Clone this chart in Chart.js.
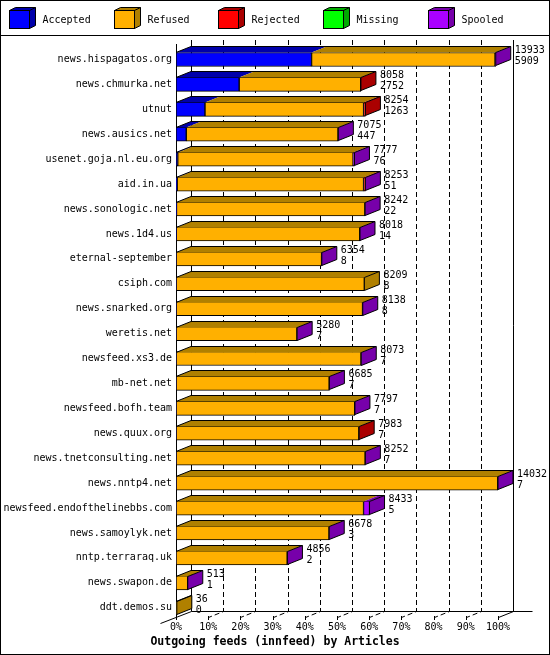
<!DOCTYPE html>
<html>
<head>
<meta charset="utf-8">
<script src="https://cdn.jsdelivr.net/npm/chart.js@4.4.1/dist/chart.umd.min.js"></script>
<style>
  html, body { margin: 0; padding: 0; background: #fff; }
  canvas { display: block; }
</style>
</head>
<body>
<canvas id="FeedChart" width="550" height="655"></canvas>
<script>
// ── Outgoing feeds (innfeed) by Articles ─────────────────────────────────────

const hosts = [
  'news.hispagatos.org', 'news.chmurka.net', 'utnut', 'news.ausics.net',
  'usenet.goja.nl.eu.org', 'aid.in.ua', 'news.sonologic.net', 'news.1d4.us',
  'eternal-september', 'csiph.com', 'news.snarked.org', 'weretis.net',
  'newsfeed.xs3.de', 'mb-net.net', 'newsfeed.bofh.team', 'news.quux.org',
  'news.tnetconsulting.net', 'news.nntp4.net', 'newsfeed.endofthelinebbs.com',
  'news.samoylyk.net', 'nntp.terraraq.uk', 'news.swapon.de', 'ddt.demos.su',
];

const offered  = [13933, 8058, 8254, 7075, 7777, 8253, 8242, 8018, 6354, 8209, 8138, 5280,
                  8073, 6685, 7797, 7983, 8252, 14032, 8433, 6678, 4856, 513, 36];
const accepted = [5909, 2752, 1263, 447, 76, 51, 22, 14, 8, 8, 8, 7,
                  7, 7, 7, 7, 7, 7, 5, 3, 2, 1, 0];
const refused  = [7994, 5296, 6911, 6613, 7641, 8122, 8210, 7994, 6336, 8201, 8120, 5263,
                  8056, 6668, 7780, 7961, 8235, 14015, 8168, 6665, 4844, 507, 36];
const rejected = [0, 10, 80, 0, 0, 70, 0, 0, 0, 0, 0, 0,
                  0, 0, 0, 15, 0, 0, 0, 0, 0, 0, 0];
const missing  = [0, 0, 0, 0, 0, 0, 0, 0, 0, 0, 0, 0,
                  0, 0, 0, 0, 0, 0, 0, 0, 0, 0, 0];
const spooled  = [30, 0, 0, 15, 60, 10, 10, 10, 10, 0, 10, 10,
                  10, 10, 10, 0, 10, 10, 260, 10, 10, 5, 0];

const xTicks = [0, 10, 20, 30, 40, 50, 60, 70, 80, 90, 100];

const DEPTH_X = 15;
const DEPTH_Y = 6;
const FONT    = 'DejaVu Sans Mono';

const maxOffered = Math.max(...offered);
const FC_pct = arr => arr.map(v => v > 0 ? v / maxOffered * 100 : null);

const mkSeries = (label, arr, color, dark) => ({
  label, data: FC_pct(arr), backgroundColor: color, sideColor: dark,
  borderColor: '#000', borderWidth: 1, borderSkipped: false, barThickness: 14,
});

const datasets = [
  mkSeries('Accepted', accepted, '#0000ff', '#0000aa'),
  mkSeries('Refused',  refused,  '#ffb000', '#b08000'),
  mkSeries('Rejected', rejected, '#ff0000', '#aa0000'),
  mkSeries('Missing',  missing,  '#00ff00', '#00aa00'),
  mkSeries('Spooled',  spooled,  '#aa00ff', '#7700aa'),
];

const px = v => Math.round(v) + 0.5;

// back wall, dashed grid and floor, drawn behind the bars
const FC_WallPlugin = {
  id: 'fcWall',
  beforeDraw(chart) {
    const { ctx, width, height } = chart;
    ctx.save();
    ctx.fillStyle = '#fff';
    ctx.fillRect(0, 0, width, height);
    ctx.restore();
  },
  beforeDatasetsDraw(chart) {
    const { ctx, chartArea: a, scales: { x } } = chart;
    const top      = a.top - 7;
    const floorB   = Math.round(a.bottom) - 9;
    const floorF   = floorB + DEPTH_Y;
    const left     = px(x.getPixelForValue(0));
    const right    = px(x.getPixelForValue(100));

    ctx.save();
    ctx.strokeStyle = '#000';
    ctx.lineWidth = 1;

    ctx.setLineDash([5, 3]);
    xTicks.filter(v => v > 0 && v < 100).forEach(v => {
      const fx = px(x.getPixelForValue(v));
      ctx.beginPath();
      ctx.moveTo(fx + DEPTH_X, top);
      ctx.lineTo(fx + DEPTH_X, floorB + 0.5);
      ctx.lineTo(fx, floorF + 0.5);
      ctx.stroke();
    });
    ctx.setLineDash([]);

    ctx.beginPath();
    // back left / back right walls
    ctx.moveTo(left + DEPTH_X, top);
    ctx.lineTo(left + DEPTH_X, floorB + 0.5);
    ctx.moveTo(right + DEPTH_X, top);
    ctx.lineTo(right + DEPTH_X, floorB + 0.5);
    ctx.lineTo(right, floorF + 0.5);
    // floor edge
    ctx.moveTo(left - 16, floorF + 6.5);
    ctx.lineTo(left + DEPTH_X, floorB + 0.5);
    ctx.lineTo(right + DEPTH_X + 19, floorB + 0.5);
    // front left axis
    ctx.moveTo(left, a.top - 3);
    ctx.lineTo(left, floorF + 3);
    // tick marks
    xTicks.filter(v => v > 0).forEach(v => {
      const fx = px(x.getPixelForValue(v));
      ctx.moveTo(fx, floorF - 1);
      ctx.lineTo(fx, floorF + 3);
    });
    ctx.stroke();
    ctx.restore();
  },
};

// top and side faces of each stacked bar, plus the offered / accepted counts
const FC_FacesPlugin = {
  id: 'fcFaces',
  afterDatasetsDraw(chart) {
    const { ctx } = chart;
    ctx.save();
    ctx.lineWidth = 1;
    ctx.strokeStyle = '#000';

    hosts.forEach((h, i) => {
      let first = null, last = null, lastDs = null;
      chart.data.datasets.forEach((ds, d) => {
        if (!ds.data[i]) return;
        const el = chart.getDatasetMeta(d).data[i];
        const { x: x1, base: x0, y, height } = el.getProps(['x', 'base', 'y', 'height'], true);
        const yT = Math.round(y - height / 2) + 0.5;
        const yB = yT + height - 1;
        ctx.fillStyle = ds.sideColor;
        ctx.beginPath();
        ctx.moveTo(x0, yT);
        ctx.lineTo(x0 + DEPTH_X, yT - DEPTH_Y);
        ctx.lineTo(x1 + DEPTH_X, yT - DEPTH_Y);
        ctx.lineTo(x1, yT);
        ctx.closePath();
        ctx.fill();
        if (first === null) first = { x0, yT, yB };
        last = { x1, yT, yB };
        lastDs = ds;
      });
      if (!last) return;

      const { x1, yT, yB } = last;
      ctx.fillStyle = lastDs.sideColor;
      ctx.beginPath();
      ctx.moveTo(x1, yT);
      ctx.lineTo(x1 + DEPTH_X, yT - DEPTH_Y);
      ctx.lineTo(x1 + DEPTH_X, yB - DEPTH_Y);
      ctx.lineTo(x1, yB);
      ctx.closePath();
      ctx.fill();

      ctx.beginPath();
      ctx.moveTo(first.x0, yT);
      ctx.lineTo(first.x0 + DEPTH_X, yT - DEPTH_Y);
      ctx.lineTo(x1 + DEPTH_X, yT - DEPTH_Y);
      ctx.lineTo(x1 + DEPTH_X, yB - DEPTH_Y);
      ctx.lineTo(x1, yB);
      ctx.moveTo(x1, yT);
      ctx.lineTo(x1 + DEPTH_X, yT - DEPTH_Y);
      ctx.moveTo(x1, yT);
      ctx.lineTo(x1, yB);
      ctx.stroke();

      const cy = (yT + yB) / 2;
      ctx.fillStyle = '#000';
      ctx.font = `10px ${FONT}`;
      ctx.textAlign = 'left';
      ctx.textBaseline = 'middle';
      ctx.fillText(String(offered[i]), x1 + DEPTH_X + 4, cy - 8.5);
      ctx.fillText(String(accepted[i]), x1 + DEPTH_X + 4, cy + 2.5);
    });
    ctx.restore();
  },
};

// cube legend across the top and the outer frame
const FC_LegendPlugin = {
  id: 'fcLegend',
  afterDraw(chart) {
    const { ctx, width, height } = chart;
    ctx.save();
    ctx.lineWidth = 1;
    ctx.strokeStyle = '#000';

    chart.data.datasets.forEach((ds, d) => {
      const bx = 9.5 + Math.round(d * 104.7);
      const by = 10.5;
      ctx.fillStyle = ds.sideColor;
      ctx.beginPath();
      ctx.moveTo(bx, by);
      ctx.lineTo(bx + 6, by - 3);
      ctx.lineTo(bx + 26, by - 3);
      ctx.lineTo(bx + 26, by + 15);
      ctx.lineTo(bx + 20, by + 18);
      ctx.lineTo(bx + 20, by);
      ctx.closePath();
      ctx.fill();
      ctx.stroke();
      ctx.beginPath();
      ctx.moveTo(bx + 20, by);
      ctx.lineTo(bx + 26, by - 3);
      ctx.stroke();
      ctx.fillStyle = ds.backgroundColor;
      ctx.fillRect(bx, by, 20, 18);
      ctx.strokeRect(bx, by, 20, 18);

      ctx.fillStyle = '#000';
      ctx.font = `10px ${FONT}`;
      ctx.textAlign = 'left';
      ctx.textBaseline = 'middle';
      ctx.fillText(ds.label, bx + 33, 20);
    });

    ctx.strokeRect(0.5, 0.5, width - 1, height - 1);
    ctx.beginPath();
    ctx.moveTo(0, 35.5);
    ctx.lineTo(width, 35.5);
    ctx.stroke();
    ctx.restore();
  },
};

Chart.defaults.font.family = FONT;
Chart.defaults.color = '#000';

new Chart(document.getElementById('FeedChart').getContext('2d'), {
  type: 'bar',
  data: { labels: hosts, datasets },
  plugins: [FC_WallPlugin, FC_FacesPlugin, FC_LegendPlugin],
  options: {
    indexAxis: 'y',
    responsive: false,
    animation: false,
    devicePixelRatio: 1,
    layout: { padding: { top: 47, right: 0, bottom: 2, left: 0 } },
    plugins: {
      legend: { display: false },
      tooltip: { enabled: false },
      title: {
        display: true, position: 'bottom',
        text: 'Outgoing feeds (innfeed) by Articles',
        font: { family: FONT, size: 11.5, weight: 'bold' },
        color: '#000',
        padding: { top: 0, bottom: 4 },
      },
    },
    scales: {
      x: {
        stacked: true, min: 0, max: 100,
        grid: { display: false, drawTicks: false },
        border: { display: false },
        afterFit: s => { s.height = 15; },
        ticks: {
          stepSize: 10, padding: 1, maxRotation: 0,
          font: { family: FONT, size: 10 }, color: '#000',
          callback: v => v + '%',
        },
      },
      y: {
        stacked: true,
        grid: { display: false, drawTicks: false },
        border: { display: false },
        afterFit: s => { s.width = 176; },
        ticks: { autoSkip: false, padding: 4, font: { family: FONT, size: 10 }, color: '#000' },
      },
      // empty right-hand gutter that holds the count labels
      yRight: {
        type: 'category', position: 'right', labels: hosts,
        grid: { display: false, drawTicks: false },
        border: { display: false },
        ticks: { display: false },
        afterFit: s => { s.width = 52; },
      },
    },
  },
});
</script>
</body>
</html>
